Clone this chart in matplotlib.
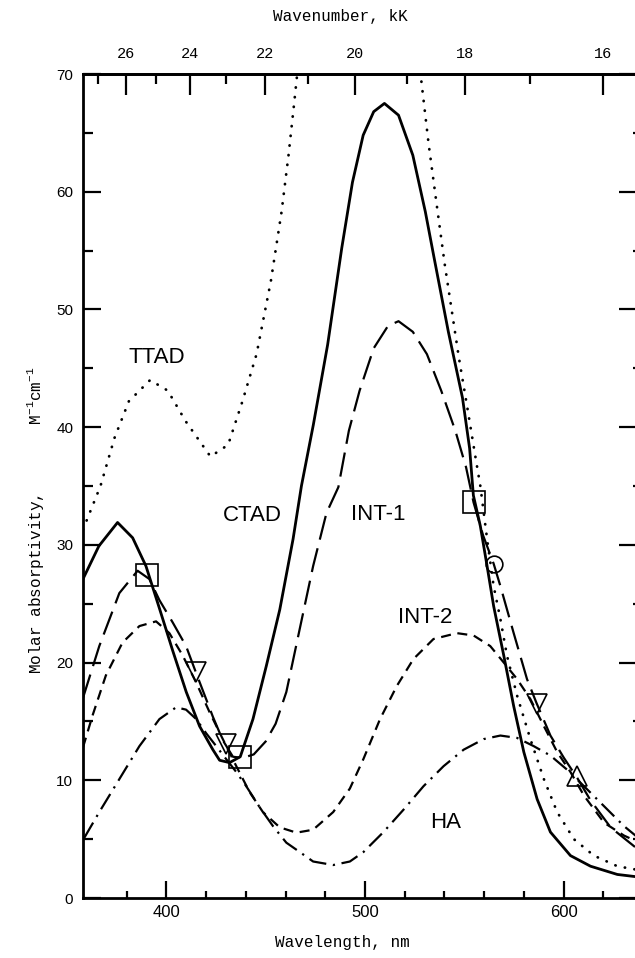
import numpy as np
import matplotlib
matplotlib.use("Agg")
import matplotlib.pyplot as plt

plt.rcParams["mathtext.fontset"] = "custom"
plt.rcParams["mathtext.rm"] = "Liberation Mono"
plt.rcParams["mathtext.it"] = "Liberation Mono"
plt.rcParams["mathtext.bf"] = "Liberation Mono:bold"

# ---------------- data ----------------
ctad_wl = [358, 366, 375.4, 383, 389.7, 396.5, 403.2, 410, 416.7, 423.4, 426.8, 431.8,
           437.2, 443.6, 450.3, 457.1, 463.8, 468, 474, 481.2, 488.3, 493.7, 499.1,
           504.4, 509.8, 516.9, 524.1, 530.4, 534.8, 542, 549.1, 552.7, 554.6, 558.1,
           561.5, 564.8, 569.9, 574.9, 580, 586.7, 593.4, 603.5, 613.6, 627.1, 637]
ctad_v = [27.1, 29.9, 31.9, 30.6, 28.2, 24.6, 21.0, 17.5, 14.6, 12.6, 11.7, 11.5,
          12.0, 15.2, 19.7, 24.5, 30.5, 35.0, 40.2, 47.0, 55.2, 60.8, 64.8,
          66.8, 67.5, 66.5, 63.1, 58.3, 54.4, 48.1, 42.5, 38.2, 34.2, 31.6,
          28.2, 24.8, 20.6, 16.3, 12.4, 8.4, 5.6, 3.6, 2.7, 2.0, 1.8]

int1_wl = [358, 366.2, 376.3, 385.5, 391.4, 396.5, 403.2, 409.9, 415, 420, 423.4, 428.4,
           433.5, 438.5, 444, 450, 455, 460.4, 467.2, 473.9, 480.6, 486.6, 491.9, 497.3,
           504.4, 511.6, 516.9, 524.1, 531.2, 538.4, 545.5, 550.9, 554.7, 559.5, 564.8,
           568.2, 574.9, 581.6, 586.3, 593.4, 600.2, 606.9, 613.6, 623.7, 637]
int1_v = [17.0, 21.4, 25.9, 27.8, 27.1, 25.3, 23.4, 21.4, 19.1, 16.9, 15.4, 13.4,
          12.0, 11.9, 12.2, 13.3, 14.8, 17.5, 22.9, 28.2, 32.7, 34.9, 39.7, 43.1,
          46.7, 48.6, 49.0, 48.1, 46.2, 43.1, 39.7, 36.6, 33.6, 30.8, 28.4,
          26.5, 22.5, 18.6, 16.6, 13.8, 11.9, 10.2, 8.3, 6.0, 4.2]

int2_wl = [358, 362.8, 369.5, 377.9, 386.4, 394.8, 401.5, 408.2, 415, 421.7, 428.4, 435.2,
           441.9, 448.6, 457.1, 465.5, 473.9, 484, 492.4, 499.2, 507.6, 516, 524.4,
           534.5, 546.3, 554.7, 563.1, 569.9, 576.6, 583.3, 590.1, 596.8, 603.5,
           610.3, 620.4, 630.5, 637]
int2_v = [12.8, 15.5, 18.9, 21.7, 23.1, 23.5, 22.5, 20.6, 18.3, 15.8, 13.5, 11.2,
          9.0, 7.3, 6.0, 5.55, 5.8, 7.3, 9.3, 11.8, 15.2, 18.0, 20.3,
          22.0, 22.5, 22.3, 21.4, 20.0, 18.6, 16.9, 14.6, 12.4, 10.7,
          8.7, 6.4, 5.3, 4.8]

ha_wl = [358.6, 366.2, 376.3, 386.4, 396.5, 404.9, 409.9, 415, 420, 425.1, 430.1, 435.2,
         440.2, 447, 453.7, 460.4, 467.2, 473.9, 484, 492.4, 499.2, 509.3, 519.4,
         529.5, 539.6, 549.7, 559.8, 568.2, 576.6, 585, 593.4, 601.8, 610.3, 620.4,
         630.5, 637]
ha_v = [5.1, 7.3, 10.1, 12.9, 15.2, 16.2, 16.0, 15.2, 14.0, 12.9, 11.8, 10.7,
        9.5, 7.7, 6.1, 4.7, 3.9, 3.1, 2.8, 3.1, 3.9, 5.6, 7.5,
        9.5, 11.2, 12.6, 13.5, 13.8, 13.6, 12.9, 12.1, 10.9, 9.5, 7.8,
        6.1, 5.2]

ttad_wl = [358, 366.8, 373.9, 381.1, 391.8, 400.7, 409.7, 422.2, 431.1, 438.3, 445.4,
           452.6, 458, 461.5, 464.2, 466.5, 497, 527.3, 532.1, 536.6, 540.2, 543.8,
           547.3, 551.8, 555.4, 558.1, 561.5, 564.8, 568.2, 571.5, 576.6, 583.3,
           590.1, 596.8, 605.2, 615.3, 627.1, 637]
ttad_v = [31.3, 35.0, 39.1, 42.2, 44.0, 43.1, 40.5, 37.5, 38.5, 42.2, 46.2,
          52.4, 58.3, 63.1, 67.3, 71.0, np.nan, 71.0, 64.0, 58.3, 53.8, 49.8,
          45.9, 41.4, 37.7, 35.0, 30.5, 26.5, 23.7, 20.6, 17.2, 13.5,
          10.1, 7.3, 5.0, 3.6, 2.7, 2.4]

square_wl = [390.2, 437.2, 554.7]
square_v = [27.4, 12.0, 33.65]
tri_wl = [415.0, 430.1, 586.7]
tri_v = [19.2, 13.1, 16.5]
tri2_wl = [606.9]
tri2_v = [10.4]
circ_wl = [564.8]
circ_v = [28.4]

labels = ["TTAD", "CTAD", "INT-1", "INT-2", "HA"]
label_wl = [395.4, 443.2, 506.6, 530.3, 540.4]
label_v = [45.9, 32.5, 32.6, 23.8, 6.4]

x_major = [400, 500, 600]
x_minor = [380, 420, 440, 460, 480, 520, 540, 560, 580, 620]
y_major = [0, 10, 20, 30, 40, 50, 60, 70]
y_minor = [5, 15, 25, 35, 45, 55, 65]
kk_major = [26, 24, 22, 20, 18, 16]
kk_minor = [27, 25, 23, 21, 19, 17]
KK_OFFSET = 5.0  # the printed top scale sits slightly left of the exact conversion

# ---------------- figure ----------------
W, H = 635, 958
fig = plt.figure(figsize=(W / 100, H / 100), dpi=100)
ax = fig.add_axes([83 / W, 60 / H, 554 / W, 824 / H])
ax.set_xlim(358, 637)
ax.set_ylim(0, 70)

lw = 1.6
ax.plot(ctad_wl, ctad_v, color="black", lw=2.0, solid_joinstyle="round")
ax.plot(int1_wl, int1_v, color="black", lw=lw, linestyle=(0, (11, 4)))
ax.plot(int2_wl, int2_v, color="black", lw=lw, linestyle=(0, (4.5, 3)))
ax.plot(ha_wl, ha_v, color="black", lw=lw, linestyle=(0, (8, 3, 1, 3)))
ax.plot(ttad_wl, ttad_v, color="black", lw=2.0, linestyle=(0, (0.1, 3.4)),
        dash_capstyle="round")

mk = dict(linestyle="none", markerfacecolor="none", markeredgecolor="black",
          markeredgewidth=1.2)
ax.plot(square_wl, square_v, marker="s", markersize=16, **mk)
ax.plot(tri_wl, tri_v, marker="v", markersize=15, **mk)
ax.plot(tri2_wl, tri2_v, marker="^", markersize=15, **mk)
ax.plot(circ_wl, circ_v, marker="o", markersize=12, **mk)

for t, xw, yv in zip(labels, label_wl, label_v):
    ax.text(xw, yv, t, ha="center", va="center", fontsize=16,
            family="Liberation Sans")

for s in ax.spines.values():
    s.set_linewidth(2.0)

ax.set_xticks(x_major)
ax.set_xticks(x_minor, minor=True)
ax.set_yticks(y_major)
ax.set_yticks(y_minor, minor=True)
ax.tick_params(axis="x", which="major", direction="in", length=12, width=1.6,
               labelsize=12, pad=5, top=False)
ax.tick_params(axis="x", which="minor", direction="in", length=5, width=1.6,
               top=False)
ax.tick_params(axis="y", which="major", direction="in", length=13, width=1.6,
               labelsize=11, pad=7, right=False)
ax.tick_params(axis="y", which="minor", direction="in", length=7, width=1.6,
               right=False)
for lab in ax.get_xticklabels() + ax.get_yticklabels():
    lab.set_family("Liberation Sans")

sec = ax.secondary_xaxis("top", functions=(lambda w: 1e4 / (w + KK_OFFSET),
                                           lambda k: 1e4 / k - KK_OFFSET))
sec.set_xticks(kk_major)
sec.set_xticks(kk_minor, minor=True)
sec.set_xticklabels([str(k) for k in kk_major])
sec.tick_params(which="major", direction="in", length=15, width=1.6,
                labelsize=11, pad=9)
sec.tick_params(which="minor", direction="in", length=7, width=1.6)
for lab in sec.get_xticklabels():
    lab.set_family("Liberation Mono")
sec.spines["top"].set_linewidth(2.0)

secy = ax.secondary_yaxis("right")
secy.set_yticks(y_major)
secy.set_yticks(y_minor, minor=True)
secy.set_yticklabels([])
secy.tick_params(which="major", direction="in", length=13, width=1.6)
secy.tick_params(which="minor", direction="in", length=3, width=1.6)

fig.text(340 / W, 1 - 17 / H, "Wavenumber, kK", ha="center", va="center",
         fontsize=11.5, family="Liberation Mono")
fig.text(342 / W, 1 - 942 / H, "Wavelength, nm", ha="center", va="center",
         fontsize=11.5, family="Liberation Mono")
ylab = fig.text(36 / W, 1 - 520 / H,
                r"Molar absorptivity,       $\underline{\mathrm{M}}^{-1}\mathrm{cm}^{-1}$",
                ha="center", va="center", rotation=90, fontsize=11.5,
                family="Liberation Mono")

try:
    fig.savefig("out.png", dpi=100, facecolor="white")
except Exception:
    ylab.set_text(r"Molar absorptivity,       M$^{-1}$cm$^{-1}$")
    fig.savefig("out.png", dpi=100, facecolor="white")
